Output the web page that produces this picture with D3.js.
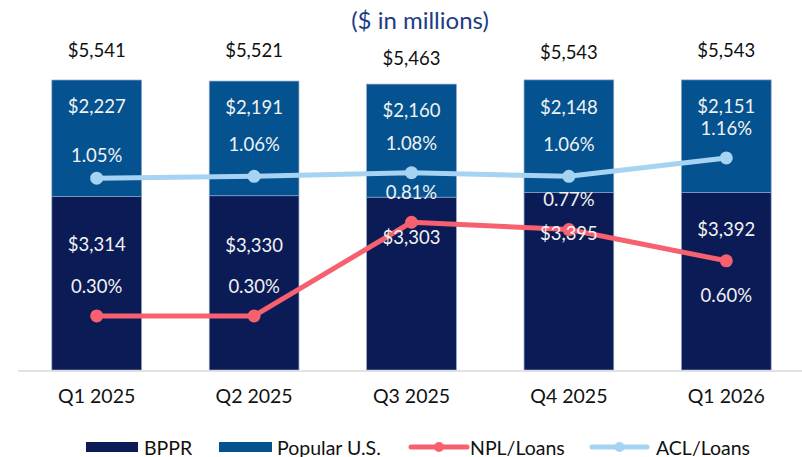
<!DOCTYPE html>
<html>
<head>
<meta charset="utf-8">
<script src="https://cdn.jsdelivr.net/npm/d3@7"></script>
<style>
  html, body { margin: 0; padding: 0; background: #ffffff; }
  svg { display: block; font-family: "Lato", "Open Sans", sans-serif; }
</style>
</head>
<body>
<svg id="chart" width="802" height="457"></svg>
<script>
// ---- data ----
const categories = ["Q1 2025", "Q2 2025", "Q3 2025", "Q4 2025", "Q1 2026"];
const bppr = [3314, 3330, 3303, 3395, 3392];
const popularUS = [2227, 2191, 2160, 2148, 2151];
const totals = [5541, 5521, 5463, 5543, 5543];
const nplLoans = [0.30, 0.30, 0.81, 0.77, 0.60];
const aclLoans = [1.05, 1.06, 1.08, 1.06, 1.16];
const seriesNames = ["BPPR", "Popular U.S.", "NPL/Loans", "ACL/Loans"];

// ---- label nudges (layout only) ----
const totalNudge = [-30, -31, -26, -28, -30];
const popNudge = [26, 26, 26, 27, 26];
const bpprNudge = [47, 49, 40, 41, 37];
const aclNudge = [-23, -32, -30, -32, -30];
const nplNudge = [-30, -30, -30, -31, 34];

const colors = {
  bppr: "#0b1b56",
  pop: "#04528f",
  npl: "#f7606f",
  acl: "#a6d3f1",
  title: "#1d3d82",
  axis: "#d9d9d9"
};

const svg = d3.select("#chart");

const x = d3.scaleBand().domain(categories).range([18, 805]).paddingInner(0.43).paddingOuter(0.215);
const y = d3.scaleLinear().domain([0, 6000]).range([370, 56]);
const y2 = d3.scaleLinear().domain([0, 1.5]).range([371, 95.5]);

const fmt$ = v => "$" + d3.format(",")(v);
const fmtPct = v => d3.format(".2f")(v) + "%";

// title
svg.append("text")
  .attr("x", 420).attr("y", 19)
  .attr("text-anchor", "middle").attr("dominant-baseline", "central")
  .attr("fill", colors.title).attr("font-size", 24)
  .text("($ in millions)");

// bars
const g = svg.append("g");
g.selectAll("rect.bppr").data(categories).join("rect")
  .attr("class", "bppr")
  .attr("x", d => x(d)).attr("width", x.bandwidth())
  .attr("y", (d, i) => y(bppr[i]))
  .attr("height", (d, i) => y(0) - y(bppr[i]))
  .attr("fill", colors.bppr)
  .attr("stroke", "#8ea3c9").attr("stroke-width", 0.7);

g.selectAll("rect.pop").data(categories).join("rect")
  .attr("class", "pop")
  .attr("x", d => x(d)).attr("width", x.bandwidth())
  .attr("y", (d, i) => y(bppr[i] + popularUS[i]))
  .attr("height", (d, i) => y(bppr[i]) - y(bppr[i] + popularUS[i]))
  .attr("fill", colors.pop)
  .attr("stroke", "#8ea3c9").attr("stroke-width", 0.7);

// axis
const xAxis = d3.axisBottom(x).tickSize(0).tickPadding(18);
const axG = svg.append("g").attr("transform", `translate(0,${y(0) + 1})`).call(xAxis);
axG.select(".domain").attr("d", "M18,0H802").attr("stroke", colors.axis).attr("stroke-width", 1.5);
axG.selectAll("text").attr("font-size", 19.5).attr("fill", "#111").attr("font-family", "Lato, 'Open Sans', sans-serif");

const cx = d => x(d) + x.bandwidth() / 2;

// value labels in bars
const lbl = svg.append("g").attr("text-anchor", "middle").attr("dominant-baseline", "central");
lbl.selectAll("text.tot").data(categories).join("text")
  .attr("class", "tot")
  .attr("x", cx).attr("y", (d, i) => y(totals[i]) + totalNudge[i])
  .attr("dominant-baseline", "central")
  .attr("font-size", 18.5).attr("fill", "#111")
  .text((d, i) => fmt$(totals[i]));

lbl.selectAll("text.pop").data(categories).join("text")
  .attr("class", "pop")
  .attr("x", cx).attr("y", (d, i) => y(totals[i]) + popNudge[i])
  .attr("dominant-baseline", "central")
  .attr("font-size", 18.5).attr("fill", "#f2f2f2")
  .text((d, i) => fmt$(popularUS[i]));

lbl.selectAll("text.bppr").data(categories).join("text")
  .attr("class", "bppr")
  .attr("x", cx).attr("y", (d, i) => y(bppr[i]) + bpprNudge[i])
  .attr("dominant-baseline", "central")
  .attr("font-size", 18.5).attr("fill", "#f2f2f2")
  .text((d, i) => fmt$(bppr[i]));

// lines
const line = d3.line().x(d => d[0]).y(d => d[1]);
function drawLine(vals, color) {
  const pts = categories.map((c, i) => [cx(c), y2(vals[i])]);
  svg.append("path").attr("d", line(pts)).attr("fill", "none")
    .attr("stroke", color).attr("stroke-width", 5).attr("stroke-linejoin", "round");
  svg.append("g").selectAll("circle").data(pts).join("circle")
    .attr("cx", d => d[0]).attr("cy", d => d[1]).attr("r", 6.5).attr("fill", color);
}
drawLine(aclLoans, colors.acl);
drawLine(nplLoans, colors.npl);

lbl.selectAll("text.acl").data(categories).join("text")
  .attr("class", "acl")
  .attr("x", cx).attr("y", (d, i) => y2(aclLoans[i]) + aclNudge[i])
  .attr("dominant-baseline", "central")
  .attr("font-size", 18.5).attr("fill", "#f2f2f2")
  .text((d, i) => fmtPct(aclLoans[i]));

lbl.selectAll("text.npl").data(categories).join("text")
  .attr("class", "npl")
  .attr("x", cx).attr("y", (d, i) => y2(nplLoans[i]) + nplNudge[i])
  .attr("dominant-baseline", "central")
  .attr("font-size", 18.5).attr("fill", "#f2f2f2")
  .text((d, i) => fmtPct(nplLoans[i]));
lbl.raise();

// legend
const leg = svg.append("g");
const legY = 447;
const legendItems = [
  { name: seriesNames[0], type: "rect", color: colors.bppr, x0: 86, x1: 138, tx: 144 },
  { name: seriesNames[1], type: "rect", color: colors.pop, x0: 219, x1: 272, tx: 277 },
  { name: seriesNames[2], type: "line", color: colors.npl, x0: 411, x1: 467, tx: 470 },
  { name: seriesNames[3], type: "line", color: colors.acl, x0: 592, x1: 647, tx: 656 }
];
legendItems.forEach(it => {
  if (it.type === "rect") {
    leg.append("rect").attr("x", it.x0).attr("y", legY - 5).attr("width", it.x1 - it.x0).attr("height", 10).attr("fill", it.color);
  } else {
    leg.append("line").attr("x1", it.x0).attr("x2", it.x1).attr("y1", legY).attr("y2", legY)
      .attr("stroke", it.color).attr("stroke-width", 5).attr("stroke-linecap", "round");
    leg.append("circle").attr("cx", (it.x0 + it.x1) / 2).attr("cy", legY).attr("r", 5).attr("fill", it.color);
  }
  leg.append("text").attr("x", it.tx).attr("y", legY).attr("dominant-baseline", "central")
    .attr("font-size", 19.5).attr("fill", "#111").text(it.name);
});
</script>
</body>
</html>
